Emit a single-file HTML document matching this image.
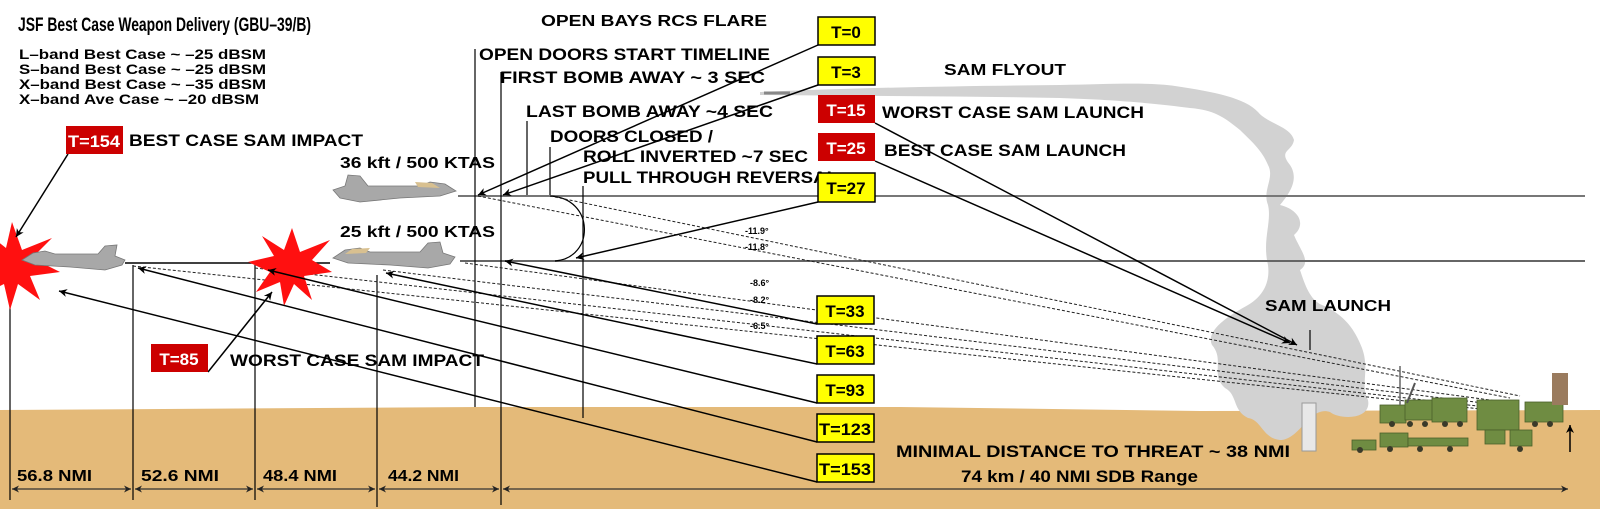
<!DOCTYPE html>
<html><head><meta charset="utf-8"><style>
html,body{margin:0;padding:0;background:#fff;}
svg{display:block;}
text{font-family:"Liberation Sans",sans-serif;font-weight:bold;fill:#000;}
</style></head><body>
<svg width="1600" height="509" viewBox="0 0 1600 509" xmlns="http://www.w3.org/2000/svg">
<defs>
<marker id="ah" viewBox="0 0 10 10" refX="10" refY="5" markerWidth="10" markerHeight="8" orient="auto" markerUnits="userSpaceOnUse">
<path d="M0,0 L10,5 L0,10 L3,5 z" fill="#000"/></marker>
<marker id="ahe" viewBox="0 0 10 10" refX="10" refY="5" markerWidth="12" markerHeight="7" orient="auto" markerUnits="userSpaceOnUse">
<path d="M0,0 L10,5 L0,10 L3,5 z" fill="#222"/></marker>
<marker id="ahst" viewBox="0 0 10 10" refX="0" refY="5" markerWidth="12" markerHeight="7" orient="auto" markerUnits="userSpaceOnUse">
<path d="M10,0 L0,5 L10,10 L7,5 z" fill="#222"/></marker>
</defs>

<!-- ground -->
<polygon points="0,410 480,407 900,407 1200,411 1600,410 1600,509 0,509" fill="#e4ba79"/>

<!-- SAM flyout cloud -->
<path d="M760,92 C850,88 950,86 1060,85 C1110,84 1150,82 1175,86 C1215,92 1245,98 1258,112 C1268,124 1290,126 1294,140 C1292,152 1278,150 1290,165 C1300,180 1288,195 1280,205 C1300,210 1306,225 1294,235 C1300,250 1312,262 1300,270 C1305,285 1310,300 1322,305 C1345,315 1355,330 1362,348 C1370,370 1360,385 1368,400 C1372,420 1340,420 1330,412 C1310,405 1300,440 1280,440 C1262,438 1262,420 1248,418 C1232,410 1238,395 1225,388 C1210,375 1225,360 1212,345 C1205,330 1230,315 1248,305 C1265,295 1270,280 1268,265 C1262,240 1272,222 1268,205 C1262,190 1275,178 1268,165 C1262,150 1250,140 1240,130 C1225,118 1215,110 1190,108 C1160,104 1120,100 1060,98 C960,96 860,96 760,95 Z" fill="#d2d2d2"/>
<line x1="764" y1="93" x2="790" y2="93" stroke="#888" stroke-width="3"/>

<!-- flight lines -->
<line x1="458" y1="196" x2="1585" y2="196" stroke="#777" stroke-width="2"/>
<line x1="460" y1="261" x2="1585" y2="261" stroke="#666" stroke-width="2"/>
<line x1="125" y1="263" x2="330" y2="263" stroke="#000" stroke-width="1.5"/>

<!-- verticals -->
<g stroke="#000" stroke-width="1.2">
<line x1="475" y1="49" x2="475" y2="407"/>
<line x1="501" y1="72" x2="501" y2="505"/>
<line x1="527" y1="121" x2="527" y2="195"/>
<line x1="550" y1="147" x2="550" y2="195"/>
<line x1="583" y1="186" x2="583" y2="418"/>
<line x1="10" y1="262" x2="10" y2="500"/>
<line x1="133" y1="265" x2="133" y2="500"/>
<line x1="255" y1="265" x2="255" y2="500"/>
<line x1="377" y1="275" x2="377" y2="507"/>
</g>

<path d="M550,196 C595,198 595,258 555,261" fill="none" stroke="#000" stroke-width="1.2"/>

<!-- dotted lines -->
<g stroke="#222" stroke-width="1" stroke-dasharray="3,2" fill="none">
<line x1="478" y1="196" x2="1510" y2="398"/>
<line x1="550" y1="196" x2="1520" y2="396"/>
<line x1="465" y1="263" x2="1505" y2="402"/>
<line x1="383" y1="270" x2="1500" y2="405"/>
<line x1="255" y1="268" x2="1495" y2="408"/>
<line x1="133" y1="266" x2="1490" y2="410"/>
</g>
<g font-size="9">
<text x="745" y="234">-11.9°</text>
<text x="745" y="250">-11.8°</text>
<text x="750" y="286">-8.6°</text>
<text x="750" y="303">-8.2°</text>
<text x="750" y="329">-6.5°</text>
</g>

<!-- explosions -->
<polygon points="12,222 22,250 52,238 32,258 60,272 30,276 40,300 18,284 10,310 4,284 -20,296 -6,272 -30,262 -4,256 -14,232 6,248" fill="#ff1010"/>
<polygon points="292,228 300,252 330,240 312,260 332,272 304,276 312,300 294,284 284,306 280,282 256,292 270,272 248,262 274,256 262,236 284,250" fill="#ff1010"/>

<!-- planes -->
<g fill="#a8a8a8" stroke="#777" stroke-width="0.8">
<path d="M333,190 L345,186 L348,175 L360,176 L368,186 L420,186 L430,182 L445,184 L456,191 L440,196 L400,198 L360,202 L340,198 Z"/>
<path d="M455,257 L443,253 L440,242 L428,243 L420,252 L370,252 L360,248 L345,250 L333,258 L348,263 L390,265 L428,268 L450,264 Z"/>
<path d="M125,260 L115,256 L117,245 L105,246 L98,254 L55,254 L45,251 L33,253 L22,260 L35,265 L70,267 L105,270 L122,265 Z"/>
</g>
<path d="M415,182 L432,183 L440,188 L418,187Z" fill="#d8c090"/>
<path d="M370,248 L352,249 L345,254 L366,253Z" fill="#d8c090"/>

<!-- labels -->
<g>
<text x="18" y="31" font-size="19" textLength="293" lengthAdjust="spacingAndGlyphs">JSF Best Case Weapon Delivery (GBU–39/B)</text>
<text x="541" y="26" font-size="16" textLength="226" lengthAdjust="spacingAndGlyphs">OPEN BAYS RCS FLARE</text>
<text x="19" y="59" font-size="14" textLength="247" lengthAdjust="spacingAndGlyphs">L–band Best Case ~ –25 dBSM</text>
<text x="19" y="74" font-size="14" textLength="247" lengthAdjust="spacingAndGlyphs">S–band Best Case ~ –25 dBSM</text>
<text x="19" y="89" font-size="14" textLength="247" lengthAdjust="spacingAndGlyphs">X–band Best Case ~ –35 dBSM</text>
<text x="19" y="104" font-size="14" textLength="240" lengthAdjust="spacingAndGlyphs">X–band Ave Case ~ –20 dBSM</text>
<text x="479" y="60" font-size="17" textLength="291" lengthAdjust="spacingAndGlyphs">OPEN DOORS START TIMELINE</text>
<text x="500" y="83" font-size="17" textLength="265" lengthAdjust="spacingAndGlyphs">FIRST BOMB AWAY ~ 3 SEC</text>
<text x="526" y="117" font-size="17" textLength="247" lengthAdjust="spacingAndGlyphs">LAST BOMB AWAY ~4 SEC</text>
<text x="550" y="142" font-size="17" textLength="163" lengthAdjust="spacingAndGlyphs">DOORS CLOSED /</text>
<text x="583" y="162" font-size="17" textLength="225" lengthAdjust="spacingAndGlyphs">ROLL INVERTED ~7 SEC</text>
<text x="583" y="183" font-size="17" textLength="255" lengthAdjust="spacingAndGlyphs">PULL THROUGH REVERSAL</text>
<text x="340" y="168" font-size="16" textLength="155" lengthAdjust="spacingAndGlyphs">36 kft / 500 KTAS</text>
<text x="340" y="237" font-size="16" textLength="155" lengthAdjust="spacingAndGlyphs">25 kft / 500 KTAS</text>
<text x="129" y="146" font-size="17" textLength="234" lengthAdjust="spacingAndGlyphs">BEST CASE SAM IMPACT</text>
<text x="230" y="366" font-size="17" textLength="254" lengthAdjust="spacingAndGlyphs">WORST CASE SAM IMPACT</text>
<text x="882" y="118" font-size="17" textLength="262" lengthAdjust="spacingAndGlyphs">WORST CASE SAM LAUNCH</text>
<text x="884" y="156" font-size="17" textLength="242" lengthAdjust="spacingAndGlyphs">BEST CASE SAM LAUNCH</text>
<text x="944" y="75" font-size="16" textLength="122" lengthAdjust="spacingAndGlyphs">SAM FLYOUT</text>
<text x="1265" y="311" font-size="16" textLength="126" lengthAdjust="spacingAndGlyphs">SAM LAUNCH</text>
<text x="896" y="457" font-size="17" textLength="394" lengthAdjust="spacingAndGlyphs">MINIMAL DISTANCE TO THREAT ~ 38 NMI</text>
<text x="961" y="482" font-size="17" textLength="237" lengthAdjust="spacingAndGlyphs">74 km / 40 NMI SDB Range</text>
<text x="17" y="481" font-size="16" textLength="75" lengthAdjust="spacingAndGlyphs">56.8 NMI</text>
<text x="141" y="481" font-size="16" textLength="78" lengthAdjust="spacingAndGlyphs">52.6 NMI</text>
<text x="263" y="481" font-size="16" textLength="74" lengthAdjust="spacingAndGlyphs">48.4 NMI</text>
<text x="388" y="481" font-size="16" textLength="71" lengthAdjust="spacingAndGlyphs">44.2 NMI</text>
</g>

<!-- arrows from T boxes -->
<g stroke="#000" stroke-width="1.5" fill="none" marker-end="url(#ah)">
<line x1="818" y1="45" x2="478" y2="195"/>
<line x1="818" y1="85" x2="503" y2="195"/>
<line x1="875" y1="123" x2="1297" y2="345"/>
<line x1="875" y1="161" x2="1290" y2="343"/>
<line x1="818" y1="202" x2="576" y2="258"/>
<line x1="817" y1="324" x2="505" y2="261"/>
<line x1="817" y1="364" x2="386" y2="273"/>
<line x1="817" y1="403" x2="268" y2="270"/>
<line x1="817" y1="442" x2="138" y2="268"/>
<line x1="817" y1="482" x2="59" y2="291"/>
<line x1="68" y1="154" x2="16" y2="237"/>
<line x1="208" y1="372" x2="272" y2="292"/>
</g>

<!-- T boxes -->
<g stroke="#000" stroke-width="1.5">
<rect x="818" y="17" width="57" height="28" fill="#ffff00"/>
<rect x="818" y="57" width="57" height="28" fill="#ffff00"/>
<rect x="818" y="173" width="57" height="29" fill="#ffff00"/>
<rect x="817" y="296" width="57" height="28" fill="#ffff00"/>
<rect x="817" y="336" width="57" height="28" fill="#ffff00"/>
<rect x="817" y="375" width="57" height="28" fill="#ffff00"/>
<rect x="817" y="414" width="57" height="28" fill="#ffff00"/>
<rect x="817" y="454" width="57" height="28" fill="#ffff00"/>
</g>
<g fill="#cc0000">
<rect x="818" y="95" width="57" height="28"/>
<rect x="818" y="133" width="57" height="28"/>
<rect x="66" y="126" width="57" height="28"/>
<rect x="151" y="344" width="57" height="28"/>
</g>
<g font-size="17" text-anchor="middle">
<text x="846" y="38">T=0</text>
<text x="846" y="78">T=3</text>
<text x="846" y="116" style="fill:#fff">T=15</text>
<text x="846" y="154" style="fill:#fff">T=25</text>
<text x="846" y="194">T=27</text>
<text x="845" y="317">T=33</text>
<text x="845" y="357">T=63</text>
<text x="845" y="396">T=93</text>
<text x="845" y="435" textLength="52" lengthAdjust="spacingAndGlyphs">T=123</text>
<text x="845" y="475" textLength="52" lengthAdjust="spacingAndGlyphs">T=153</text>
<text x="94" y="147" style="fill:#fff" textLength="52" lengthAdjust="spacingAndGlyphs">T=154</text>
<text x="179" y="365" style="fill:#fff">T=85</text>
</g>

<!-- dimension arrows -->
<g stroke="#333" stroke-width="1.3" marker-start="url(#ahst)" marker-end="url(#ahe)">
<line x1="12" y1="489" x2="131" y2="489"/>
<line x1="135" y1="489" x2="253" y2="489"/>
<line x1="257" y1="489" x2="375" y2="489"/>
<line x1="379" y1="489" x2="499" y2="489"/>
<line x1="503" y1="489" x2="1568" y2="489"/>
</g>

<!-- SAM site -->
<line x1="1310" y1="330" x2="1310" y2="350" stroke="#555" stroke-width="2"/>
<rect x="1302" y="403" width="14" height="48" fill="#e8e8e8" stroke="#999" stroke-width="1"/>
<g fill="#6f8c42" stroke="#4a5f2a" stroke-width="0.8">
<rect x="1380" y="405" width="26" height="18"/>
<rect x="1405" y="400" width="30" height="20"/>
<rect x="1432" y="398" width="35" height="24"/>
<rect x="1477" y="400" width="42" height="30"/>
<rect x="1525" y="402" width="38" height="20"/>
<rect x="1352" y="440" width="24" height="10"/>
<rect x="1380" y="433" width="28" height="14"/>
<rect x="1408" y="438" width="60" height="8"/>
<rect x="1485" y="430" width="20" height="14"/>
<rect x="1510" y="430" width="22" height="16"/>
</g>
<rect x="1552" y="373" width="16" height="32" fill="#9a7b5e"/>
<line x1="1400" y1="366" x2="1400" y2="405" stroke="#666" stroke-width="1.5"/>
<line x1="1415" y1="383" x2="1407" y2="403" stroke="#555" stroke-width="2"/>
<g fill="#3a3a2a">
<circle cx="1392" cy="424" r="3"/><circle cx="1410" cy="424" r="3"/><circle cx="1425" cy="424" r="3"/><circle cx="1445" cy="424" r="3"/><circle cx="1460" cy="424" r="3"/>
<circle cx="1535" cy="424" r="3"/><circle cx="1550" cy="424" r="3"/>
<circle cx="1360" cy="450" r="3"/><circle cx="1390" cy="449" r="3"/><circle cx="1420" cy="449" r="3"/><circle cx="1450" cy="449" r="3"/><circle cx="1520" cy="449" r="3"/>
</g>
<line x1="1570" y1="452" x2="1570" y2="425" stroke="#000" stroke-width="1.5" marker-end="url(#ah)"/>
</svg>
</body></html>
